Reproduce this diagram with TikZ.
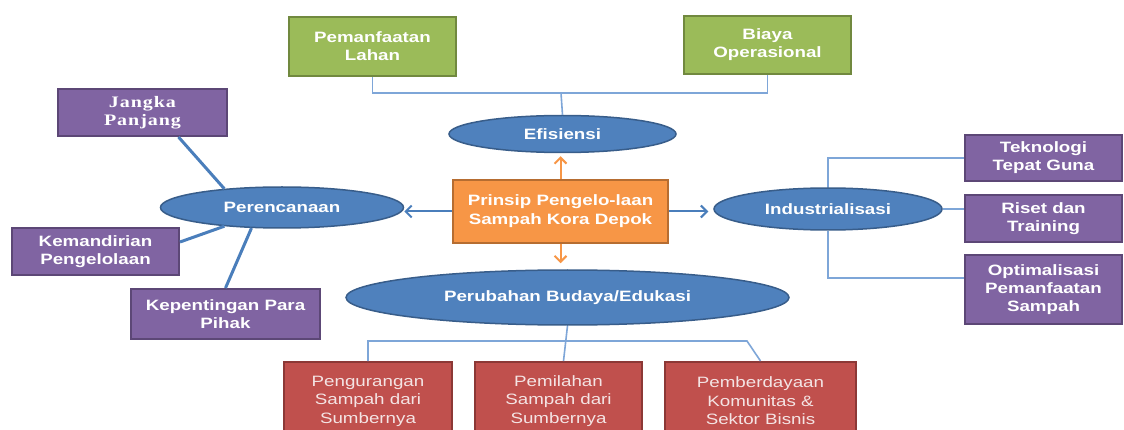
\documentclass[tikz,border=0pt]{standalone}
\usepackage{fontspec}
\setmainfont{Liberation Sans}[FakeStretch=1.25]
\newfontfamily\serifb{Liberation Serif}[FakeStretch=1.25,LetterSpace=6]
\usetikzlibrary{shapes.geometric,arrows.meta,calc}
\definecolor{cgreen}{HTML}{9BBB59}
\definecolor{cgreenb}{HTML}{71893F}
\definecolor{cpurple}{HTML}{8064A2}
\definecolor{cpurpleb}{HTML}{5C4776}
\definecolor{corange}{HTML}{F79646}
\definecolor{corangeb}{HTML}{B66D31}
\definecolor{cred}{HTML}{C0504D}
\definecolor{credb}{HTML}{8C3836}
\definecolor{credtext}{HTML}{F4E4E4}
\definecolor{cblue}{HTML}{4F81BD}
\definecolor{cblueb}{HTML}{385D8A}
\definecolor{clight}{HTML}{7EA6D8}
\definecolor{cmid}{HTML}{4A7EBB}
\begin{document}
\begin{tikzpicture}[x=1pt,y=-1pt,
  box/.style={draw, line width=2pt, align=center, inner sep=0pt, text=white,
    font=\bfseries\fontsize{15}{18}\selectfont},
  greenbox/.style={box, fill=cgreen, draw=cgreenb},
  purplebox/.style={box, fill=cpurple, draw=cpurpleb},
  redbox/.style={box, fill=cred, draw=credb, text=credtext,
    font=\fontsize{15}{18.5}\selectfont},
  orangebox/.style={box, fill=corange, draw=corangeb,
    font=\bfseries\fontsize{15}{19}\selectfont},
  ell/.style={ellipse, draw=cblueb, fill=cblue, line width=1.5pt, inner sep=0pt,
    text=white, font=\bfseries\fontsize{15}{18}\selectfont},
  thinline/.style={draw=clight, line width=1.6pt},
  thickline/.style={draw=cmid, line width=3pt},
  orangearrow/.style={draw=corange, line width=2pt, -{Straight Barb[length=6pt,width=12pt]}},
  bluearrow/.style={draw=cmid, line width=2pt, -{Straight Barb[length=6pt,width=12pt]}},
]
\useasboundingbox (0,0) rectangle (1124,430);
\fill[white] (0,0) rectangle (1124,430);

\coordinate (topbar) at (561,93);
\coordinate (botbar) at (368,341);
\coordinate (botbarr) at (747,341);

% nodes
\node[greenbox, minimum width=167pt, minimum height=59pt] (lahan) at (372.5,46.5) {Pemanfaatan\\Lahan};
\node[greenbox, minimum width=167pt, minimum height=58pt] (biaya) at (767.5,45) {Biaya\\Operasional};

\node[ell, minimum width=227pt, minimum height=37pt] (efis) at (562.5,134) {Efisiensi};
\node[orangebox, minimum width=215pt, minimum height=63pt] (prinsip) at (560.5,211.5) {Prinsip Pengelo-laan\\Sampah Kora Depok};
\node[ell, minimum width=243pt, minimum height=41pt] (perenc) at (282,207.5) {Perencanaan};
\node[ell, minimum width=228pt, minimum height=42pt] (indust) at (828,209) {Industrialisasi};
\node[ell, minimum width=443pt, minimum height=55pt] (perub) at (567.5,297.5) {Perubahan Budaya/Edukasi};

\node[purplebox, minimum width=169pt, minimum height=47pt, font=\serifb\bfseries\fontsize{16}{18.5}\selectfont] (jangka) at (142.5,112.5) {Jangka\\Panjang};
\node[purplebox, minimum width=167pt, minimum height=47pt] (kemand) at (95.5,251.5) {Kemandirian\\Pengelolaan};
\node[purplebox, minimum width=189pt, minimum height=50pt] (kepent) at (225.5,314) {Kepentingan Para\\Pihak};

\node[purplebox, minimum width=157pt, minimum height=46pt] (tekno) at (1043.5,158) {Teknologi\\Tepat Guna};
\node[purplebox, minimum width=157pt, minimum height=47pt] (riset) at (1043.5,218.5) {Riset dan\\Training};
\node[purplebox, minimum width=157pt, minimum height=69pt] (optim) at (1043.5,289.5) {Optimalisasi\\Pemanfaatan\\Sampah};

\node[redbox, minimum width=168pt, minimum height=78pt] (pengur) at (368,401) {Pengurangan\\Sampah dari\\Sumbernya};
\node[redbox, minimum width=167pt, minimum height=78pt] (pemil) at (558.5,401) {Pemilahan\\Sampah dari\\Sumbernya};
\node[redbox, minimum width=191pt, minimum height=78pt] (pember) at (760.5,401) {Pemberdayaan\\Komunitas \&\\Sektor Bisnis};

% top connectors
\draw[thinline] (lahan.south) |- (topbar) -| (biaya.south);
\draw[thinline] (efis.north) -- (topbar);

% right connectors
\draw[thinline] (indust.north) |- (tekno.west);
\draw[thinline] (indust.east) -- (indust.east -| riset.west);
\draw[thinline] (indust.south) |- ([yshift=11.5pt]optim.west);

% bottom connectors
\draw[thinline] (pengur.north) -- (botbar) -- (botbarr) -- (pember.north);
\draw[thinline] (perub.south) -- ([xshift=5pt]pemil.north);

% planning lines
\draw[thickline] ([xshift=36pt]jangka.south) -- (perenc.162);
\draw[thickline] (perenc.198) -- ([yshift=9.5pt]kemand.east);
\draw[thickline] (perenc.214) -- (kepent.north);

% arrows from centre
\draw[orangearrow, shorten >=3pt] (prinsip.north) -- (prinsip.north |- efis.south);
\draw[orangearrow, shorten >=6pt] (prinsip.south) -- (prinsip.south |- perub.north);
\draw[bluearrow] (prinsip.west) -- (prinsip.west -| perenc.east);
\draw[bluearrow, shorten >=5pt] (prinsip.east) -- (prinsip.east -| indust.west);
\end{tikzpicture}
\end{document}
